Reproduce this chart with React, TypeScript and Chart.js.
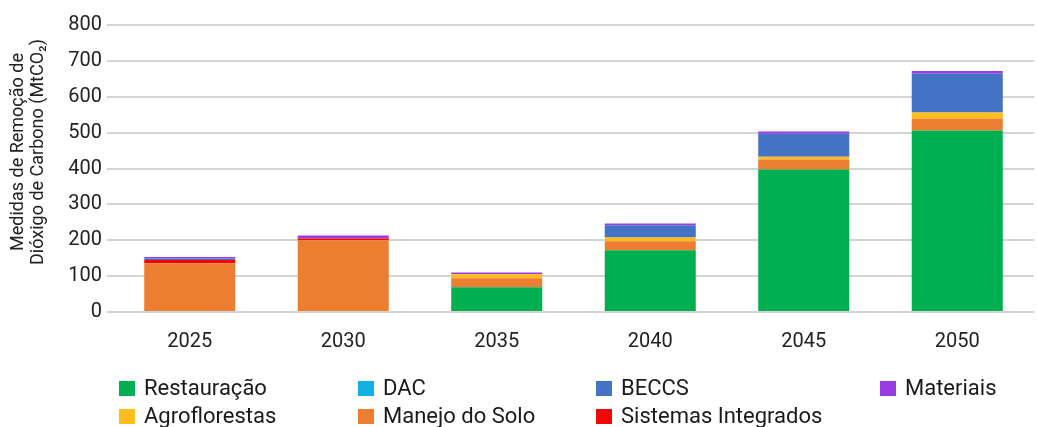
import React, { useEffect, useRef } from "react";
import { Chart, registerables } from "chart.js";

Chart.register(...registerables);

const years = ["2025", "2030", "2035", "2040", "2045", "2050"];
const restauracao = [0, 0, 69, 172, 397, 506];
const manejoSolo = [136, 200, 25, 25, 28, 33];
const sistemasIntegrados = [9, 5, 0, 0, 0, 0];
const agroflorestas = [0, 0, 11, 11, 8, 17];
const dac = [0, 0, 0, 0, 0, 0];
const beccs = [4, 0, 0, 34, 64, 108];
const materiais = [4, 8, 5, 5, 6, 8];
const yTicks = [0, 100, 200, 300, 400, 500, 600, 700, 800];
const yTitleLines = ["Medidas de Remoção de", "Dióxigo de Carbono (MtCO₂)"];

const COLORS = {
  restauracao: "#00B050",
  dac: "#13B0E6",
  beccs: "#4472C4",
  materiais: "#9B3BE3",
  agroflorestas: "#FDBD1C",
  manejo: "#ED7D31",
  sistemas: "#F20707",
};

const legendItems = [
  { label: "Restauração", color: COLORS.restauracao, left: 119, top: 0 },
  { label: "DAC", color: COLORS.dac, left: 358, top: 0 },
  { label: "BECCS", color: COLORS.beccs, left: 596, top: 0 },
  { label: "Materiais", color: COLORS.materiais, left: 880, top: 0 },
  { label: "Agroflorestas", color: COLORS.agroflorestas, left: 119, top: 1 },
  { label: "Manejo do Solo", color: COLORS.manejo, left: 358, top: 1 },
  { label: "Sistemas Integrados", color: COLORS.sistemas, left: 596, top: 1 },
];

const yTitlePlugin = {
  id: "yTitlePlugin",
  afterDraw(chart: any) {
    const ctx = chart.ctx;
    ctx.save();
    ctx.fillStyle = "#222";
    ctx.font = "18px Roboto";
    ctx.textAlign = "center";
    ctx.textBaseline = "middle";
    const cy = 152;
    const xs = [18, 38];
    yTitleLines.forEach((line, i) => {
      ctx.save();
      ctx.translate(xs[i], cy);
      ctx.rotate(-Math.PI / 2);
      ctx.fillText(line, 0, 0);
      ctx.restore();
    });
    ctx.restore();
  },
};

export default function App() {
  const ref = useRef<HTMLCanvasElement | null>(null);

  useEffect(() => {
    if (!ref.current) return;
    const mk = (label: string, data: number[], color: string) => ({
      label,
      data,
      backgroundColor: color,
      borderWidth: 0,
      stack: "s",
      barPercentage: 0.593,
      categoryPercentage: 1,
    });
    const chart = new Chart(ref.current, {
      type: "bar",
      data: {
        labels: years,
        datasets: [
          mk("Restauração", restauracao, COLORS.restauracao),
          mk("Manejo do Solo", manejoSolo, COLORS.manejo),
          mk("Sistemas Integrados", sistemasIntegrados, COLORS.sistemas),
          mk("Agroflorestas", agroflorestas, COLORS.agroflorestas),
          mk("DAC", dac, COLORS.dac),
          mk("BECCS", beccs, COLORS.beccs),
          mk("Materiais", materiais, COLORS.materiais),
        ],
      },
      options: {
        animation: false,
        responsive: false,
        maintainAspectRatio: false,
        layout: { padding: { top: 25, right: 3, left: 0, bottom: 0 } },
        plugins: { legend: { display: false }, tooltip: { enabled: false } },
        scales: {
          x: {
            stacked: true,
            grid: { display: false },
            border: { display: false },
            ticks: {
              color: "#222",
              font: { family: "Roboto", size: 20 },
              padding: 10,
            },
            afterFit: (s: any) => {
              s.height = 115;
            },
          },
          y: {
            stacked: true,
            min: 0,
            max: 800,
            afterBuildTicks: (s: any) => {
              s.ticks = yTicks.map((v) => ({ value: v }));
            },
            grid: { color: "#D4D4D4", lineWidth: 2, drawTicks: true, tickLength: 6 },
            border: { display: false },
            ticks: {
              color: "#222",
              font: { family: "Roboto", size: 20 },
              padding: 5,
            },
            afterFit: (s: any) => {
              s.width = 113;
            },
          },
        },
      },
      plugins: [yTitlePlugin],
    });
    return () => chart.destroy();
  }, []);

  return (
    <div style={{ position: "fixed", left: 0, top: 0, width: 1037, height: 427, background: "#fff", overflow: "hidden" }}>
      <canvas ref={ref} width={1037} height={427} style={{ position: "absolute", left: 0, top: 0 }} />
      {legendItems.map((it) => (
        <div key={it.label}>
          <div
            style={{
              position: "absolute",
              left: it.left,
              top: 381 + it.top * 28,
              width: 16,
              height: 15,
              background: it.color,
            }}
          />
          <div
            style={{
              position: "absolute",
              left: it.left + 25,
              top: 377 + it.top * 28,
              fontFamily: "Roboto",
              fontSize: 22,
              lineHeight: "22px",
              color: "#1a1a1a",
              whiteSpace: "nowrap",
            }}
          >
            {it.label}
          </div>
        </div>
      ))}
    </div>
  );
}
